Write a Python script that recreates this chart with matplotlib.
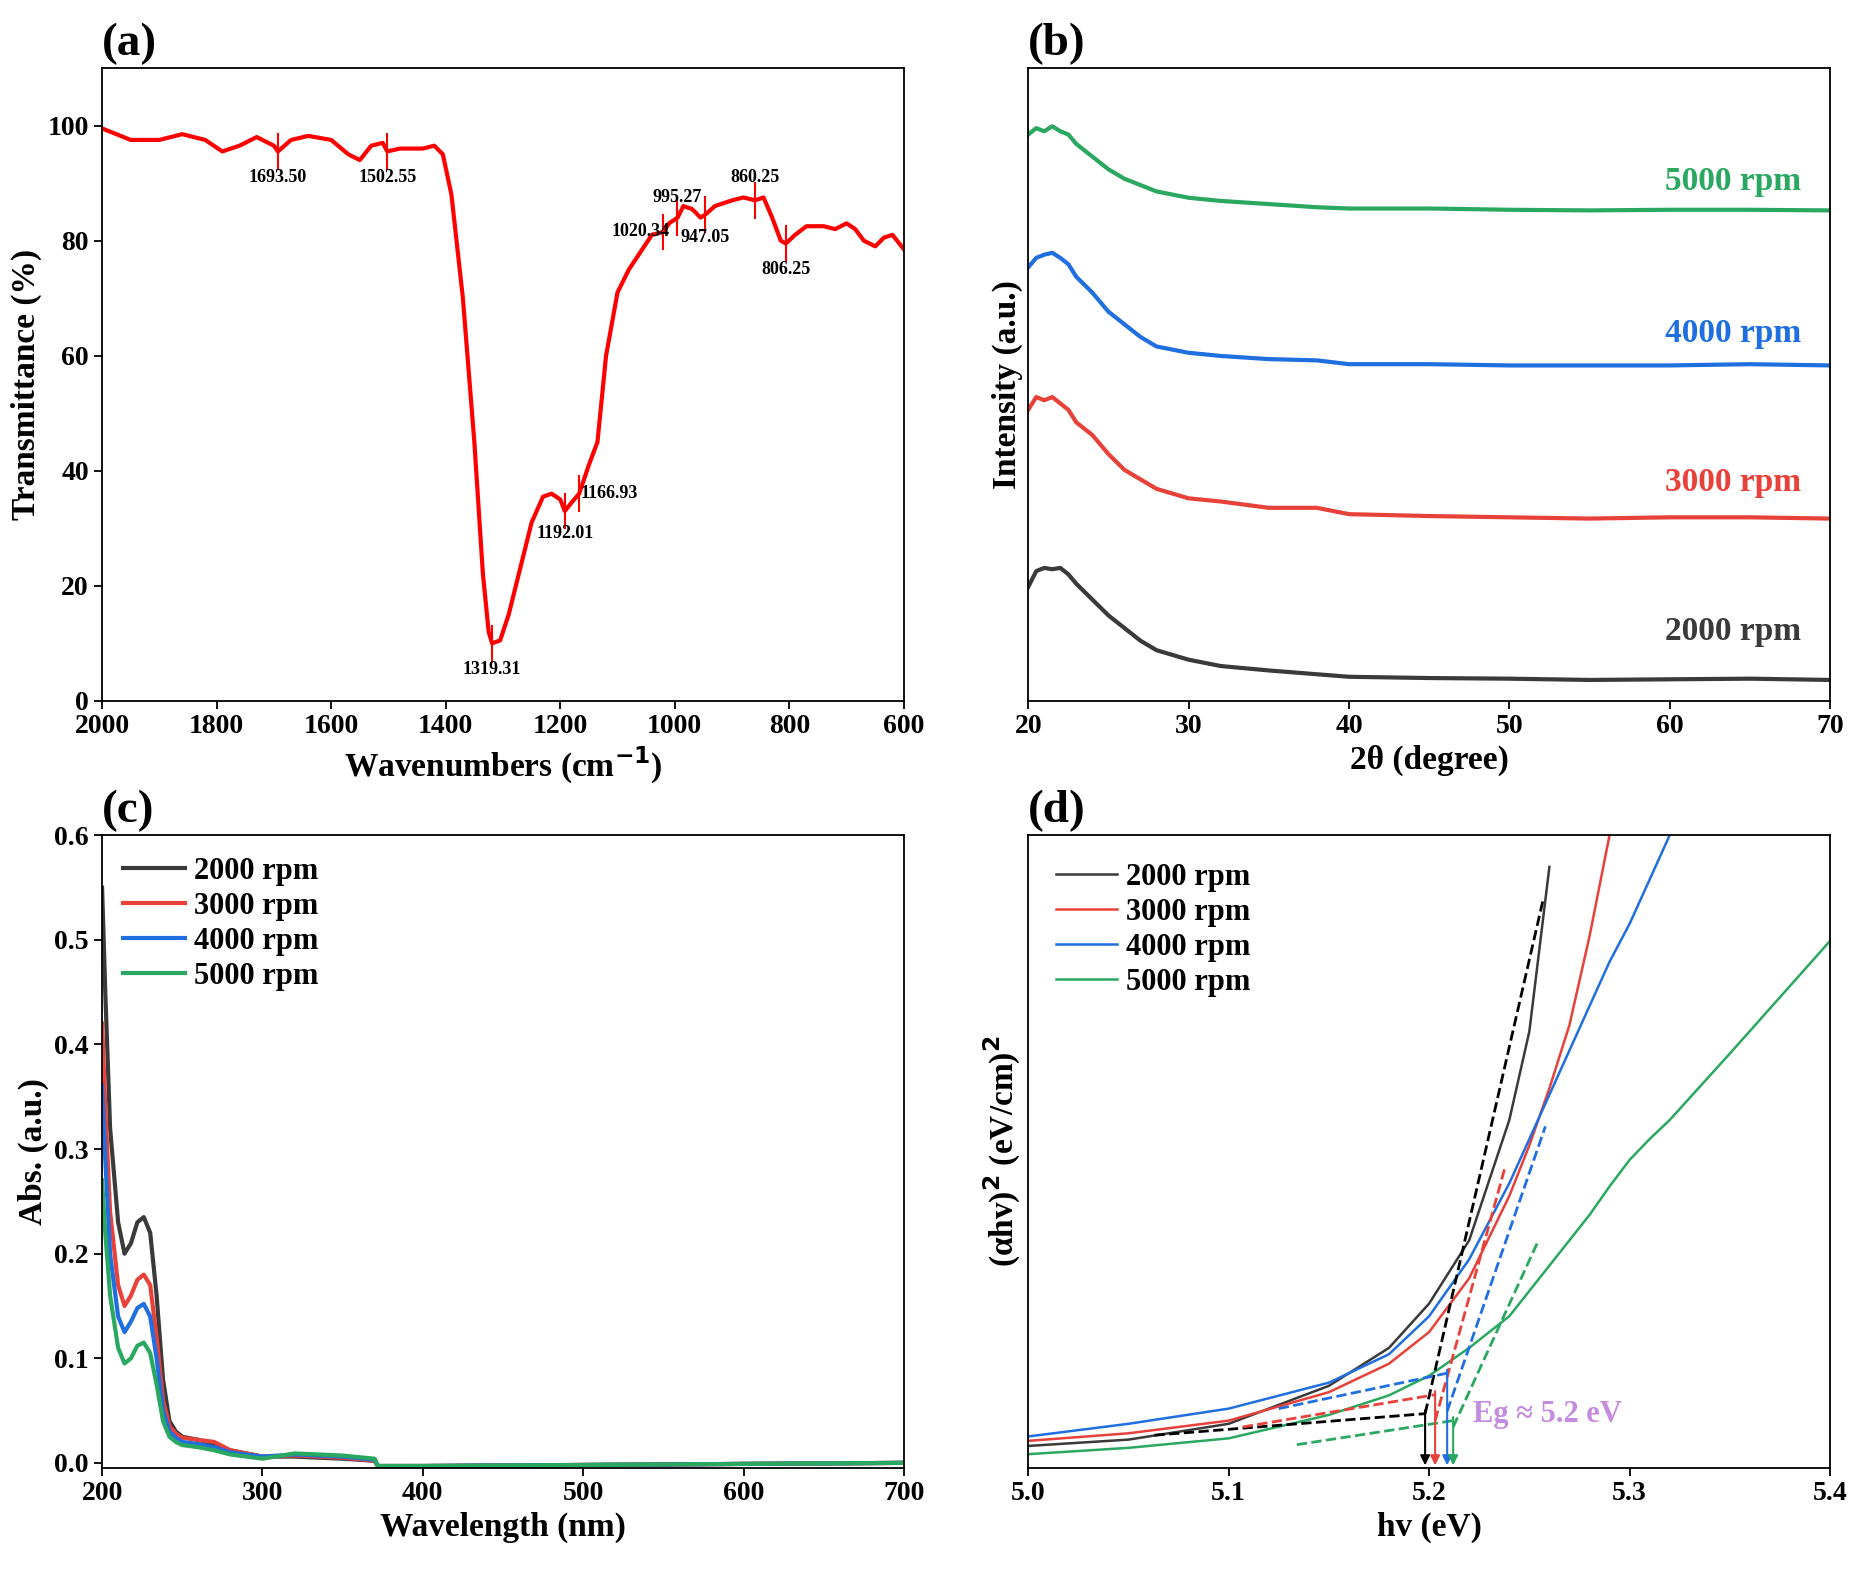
import matplotlib
matplotlib.use("Agg")
import matplotlib.pyplot as plt

plt.rcParams['font.family'] = ['Liberation Serif', 'DejaVu Serif']
plt.rcParams['font.weight'] = 'bold'
plt.rcParams['axes.labelweight'] = 'bold'
plt.rcParams['mathtext.default'] = 'bf'

K, R, B, G = '#3a3a3a', '#e8413a', '#1f6fe0', '#2aa860'

# (a) FTIR
ftir_x = [2000,1950,1900,1860,1820,1790,1760,1730,1700,1693,1670,1640,1600,1570,1550,1530,1510,1502,1480,1440,1420,1405,1390,1370,1350,1335,1325,1319,1305,1290,1270,1250,1230,1215,1200,1192,1180,1167,1150,1135,1120,1100,1080,1060,1040,1020,1010,995,985,970,955,947,930,900,880,860,845,830,815,806,790,770,740,720,700,685,670,650,635,620,600]
ftir_y = [99.5,97.5,97.5,98.5,97.5,95.5,96.5,98,96.5,95.5,97.5,98.2,97.5,95,94,96.5,97,95.5,96,96,96.5,95,88,70,45,22,12,10,10.5,15,23,31,35.5,36,35,33,34.5,36,41,45,60,71,75,78,81,81.5,83,84,86,85.5,84,84.5,86,87,87.5,87,87.5,84,80,79.5,81,82.5,82.5,82,83,82,80,79,80.5,81,78.5]
peak_x = [1693.50,1502.55,1319.31,1192.01,1166.93,1020.34,995.27,947.05,860.25,806.25]
peak_y = [95.5,95.5,10,33,36,81.5,84,84.5,87,79.5]
peak_lbl = ['1693.50','1502.55','1319.31','1192.01','1166.93','1020.34','995.27','947.05','860.25','806.25']
lbl_pos = [(1693,91),(1502,91),(1319,5.5),(1192,29),(1115,36),(1060,81.5),(995,87.5),(947,80.5),(860,91),(806,75)]

# (b) XRD
xrd_x = [20,20.5,21,21.5,22,22.5,23,24,25,26,27,28,30,32,35,38,40,45,50,55,60,65,70]
xrd_2000 = [18,20.5,21,20.8,21,20,18.5,16,13.5,11.5,9.5,8,6.5,5.5,4.8,4.2,3.8,3.6,3.5,3.3,3.4,3.5,3.3]
xrd_3000 = [46,48,47.5,48,47,46,44,42,39,36.5,35,33.5,32,31.5,30.5,30.5,29.5,29.2,29,28.8,29,29,28.8]
xrd_4000 = [68.5,70,70.5,70.8,70,69,67,64.5,61.5,59.5,57.5,56,55,54.5,54,53.8,53.2,53.2,53,53,53,53.2,53]
xrd_5000 = [89.5,90.5,90,90.8,90,89.5,88,86,84,82.5,81.5,80.5,79.5,79,78.5,78,77.8,77.8,77.6,77.5,77.6,77.6,77.5]
rpm = ['2000 rpm','3000 rpm','4000 rpm','5000 rpm']
xrd_lbl_y = [11, 34.5, 58, 82]

# (c) UV-vis
uv_x = [200,202,205,210,214,218,222,226,230,234,238,242,246,250,260,270,280,300,320,350,370,372,400,500,600,700]
uv_2000 = [0.55,0.45,0.32,0.23,0.20,0.21,0.23,0.235,0.22,0.16,0.08,0.04,0.03,0.025,0.022,0.018,0.012,0.006,0.006,0.004,0.002,-0.003,-0.003,-0.002,-0.001,0.0]
uv_3000 = [0.42,0.34,0.24,0.17,0.15,0.16,0.175,0.18,0.17,0.12,0.06,0.035,0.028,0.024,0.022,0.02,0.012,0.006,0.007,0.005,0.002,-0.003,-0.003,-0.002,-0.001,0.0]
uv_4000 = [0.36,0.29,0.20,0.14,0.125,0.135,0.148,0.152,0.14,0.10,0.05,0.03,0.024,0.02,0.018,0.015,0.01,0.006,0.008,0.006,0.003,-0.003,-0.003,-0.002,-0.001,0.0]
uv_5000 = [0.27,0.22,0.16,0.11,0.095,0.10,0.112,0.115,0.105,0.075,0.04,0.025,0.02,0.017,0.015,0.012,0.008,0.004,0.009,0.007,0.004,-0.003,-0.003,-0.002,-0.001,0.0]

# (d) Tauc
t_x = [5.0,5.05,5.1,5.15,5.18,5.2,5.22,5.24,5.25,5.26,5.27,5.28,5.29,5.3,5.31,5.32,5.35,5.4]
t_2000 = [3.5,4.5,7,13,19,26,36,55,69,95,None,None,None,None,None,None,None,None]
t_3000 = [4.3,5.5,7.5,12,16.5,21.5,30,43,51,60,70,84,100,None,None,None,None,None]
t_4000 = [5,7,9.4,13.5,18,24,33,45,52,59,66,73,80,86,93,100,None,None]
t_5000 = [2.2,3.2,4.7,8.4,11.5,14.6,19,24,28,32,36,40,44.5,48.7,52,55,65.5,83.3]
base_x = [(5.063,5.198),(5.107,5.203),(5.125,5.209),(5.134,5.212)]
base_y = [(5.2,8.6),(6.5,11.6),(9.4,15),(3.7,7.5)]
tan_x = [(5.198,5.257),(5.203,5.238),(5.209,5.258),(5.212,5.254)]
tan_y = [(8.6,90),(7.5,47.7),(9.0,54),(6.5,35.6)]
eg = [5.198,5.203,5.209,5.212]
dash_cols = ['black', R, B, G]

fig = plt.figure(figsize=(18.56,15.82), dpi=100)
axa = fig.add_axes([0.055,0.557,0.432,0.40])
axb = fig.add_axes([0.554,0.557,0.432,0.40])
axc = fig.add_axes([0.055,0.072,0.432,0.40])
axd = fig.add_axes([0.554,0.072,0.432,0.40])
fs = 20
for ax in (axa,axb,axc,axd):
    ax.tick_params(labelsize=fs, width=1.3, length=6)
    for s in ax.spines.values(): s.set_linewidth(1.3)

axa.plot(ftir_x, ftir_y, color='red', lw=3)
for x,y,l,(lx,ly) in zip(peak_x,peak_y,peak_lbl,lbl_pos):
    axa.plot([x,x],[y-3,y+3], color='red', lw=1.5)
    axa.text(lx, ly, l, fontsize=13, ha='center', va='center')
axa.set_xlim(2000,600); axa.set_ylim(0,110)
axa.set_xticks(range(2000,599,-200)); axa.set_yticks(range(0,101,20))
axa.set_xlabel('Wavenumbers (cm$^{-1}$)', fontsize=24)
axa.set_ylabel('Transmittance (%)', fontsize=24)

for ys,c,l,ly in zip([xrd_2000,xrd_3000,xrd_4000,xrd_5000],[K,R,B,G],rpm,xrd_lbl_y):
    axb.plot(xrd_x, ys, color=c, lw=3)
    axb.text(68.2,ly,l,color=c,fontsize=24,ha='right',va='center')
axb.set_xlim(20,70); axb.set_ylim(0,100); axb.set_yticks([])
axb.set_xlabel('2θ (degree)', fontsize=24); axb.set_ylabel('Intensity (a.u.)', fontsize=24)

for ys,c,l in zip([uv_2000,uv_3000,uv_4000,uv_5000],[K,R,B,G],rpm):
    axc.plot(uv_x, ys, color=c, lw=3, label=l)
axc.set_xlim(200,700); axc.set_ylim(-0.005,0.6)
axc.set_yticks([0,0.1,0.2,0.3,0.4,0.5,0.6])
axc.set_yticklabels(['0.0','0.1','0.2','0.3','0.4','0.5','0.6'])
axc.set_xlabel('Wavelength (nm)', fontsize=24); axc.set_ylabel('Abs. (a.u.)', fontsize=24)
axc.legend(loc='upper left', fontsize=22, frameon=False, handlelength=2.0, handletextpad=0.3,
           borderaxespad=0.3, labelspacing=0.2)

for ys,c,l in zip([t_2000,t_3000,t_4000,t_5000],[K,R,B,G],rpm):
    xs=[x for x,y in zip(t_x,ys) if y is not None]; yv=[y for y in ys if y is not None]
    axd.plot(xs, yv, color=c, lw=1.8, label=l)
for bx,by,tx,ty,e,c in zip(base_x,base_y,tan_x,tan_y,eg,dash_cols):
    axd.plot(bx,by,'--',color=c,lw=2); axd.plot(tx,ty,'--',color=c,lw=2)
    axd.annotate('',xy=(e,0),xytext=(e,by[1]+1),arrowprops=dict(arrowstyle='-|>',color=c,lw=1.5,mutation_scale=14))
axd.text(5.222,8.4,'Eg ≈ 5.2 eV',color='#c58be0',fontsize=22,va='center')
axd.set_xlim(5.0,5.4); axd.set_ylim(0,100); axd.set_yticks([])
axd.set_xticks([5.0,5.1,5.2,5.3,5.4])
axd.set_xlabel('hv (eV)', fontsize=24); axd.set_ylabel('(αhv)$^2$ (eV/cm)$^2$', fontsize=24)
axd.legend(loc='upper left', fontsize=22, frameon=False, handlelength=2.0, handletextpad=0.3,
           borderaxespad=0.5, labelspacing=0.2)

for ax,t in zip((axa,axb,axc,axd),'abcd'):
    ax.text(0.0,1.005,f'({t})',transform=ax.transAxes,fontsize=34,ha='left',va='bottom')
fig.savefig('out.png', dpi=100)
